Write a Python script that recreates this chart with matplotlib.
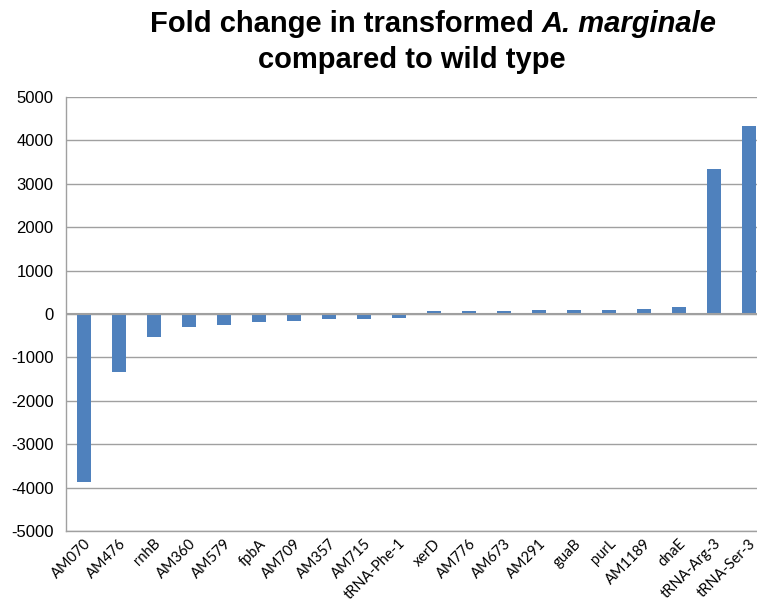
import numpy as np
import matplotlib
matplotlib.use("Agg")
import matplotlib.pyplot as plt

genes = ["AM070", "AM476", "rnhB", "AM360", "AM579", "fpbA", "AM709", "AM357",
         "AM715", "tRNA-Phe-1", "xerD", "AM776", "AM673", "AM291", "guaB", "purL",
         "AM1189", "dnaE", "tRNA-Arg-3", "tRNA-Ser-3"]
fold_change = [-3880, -1340, -530, -300, -250, -190, -160, -120,
               -120, -90, 60, 60, 80, 90, 100, 100,
               120, 150, 3340, 4330]
yticks = [-5000, -4000, -3000, -2000, -1000, 0, 1000, 2000, 3000, 4000, 5000]

W, H = 757, 606
fig = plt.figure(figsize=(W / 100, H / 100), dpi=100)
# axes run past the right edge, as in the original
ax = fig.add_axes([66 / W, (H - 531) / H, 700 / W, (531 - 97) / H])

x = np.arange(len(genes))
ax.bar(x, fold_change, width=0.4, color="#4F81BD", zorder=3)

ax.set_xlim(-0.5, len(genes) - 0.5)
ax.set_ylim(-5000, 5000)
ax.set_yticks(yticks)
ax.set_yticklabels([str(v) for v in yticks], fontfamily="Liberation Sans", fontsize=12)
ax.yaxis.grid(True, color="#A0A0A0", linewidth=1, zorder=0)
ax.axhline(0, color="#A0A0A0", linewidth=1.5, zorder=4)
ax.tick_params(axis="y", length=0, pad=9)
ax.tick_params(axis="x", length=0, pad=4)

ax.set_xticks(x)
ax.set_xticklabels(genes, rotation=45, ha="right", rotation_mode="anchor",
                   fontfamily="Lato", fontsize=10.5)

for s in ["top", "right"]:
    ax.spines[s].set_visible(False)
for s in ["left", "bottom"]:
    ax.spines[s].set_color("#A0A0A0")
    ax.spines[s].set_linewidth(1)

# title, with the species name in italics
fig.canvas.draw()
r = fig.canvas.get_renderer()
t1 = fig.text(0, 1 - 24 / H, "Fold change in transformed ", fontsize=21,
              fontweight="bold", fontfamily="Liberation Sans", va="center")
t2 = fig.text(0, 1 - 24 / H, "A. marginale", fontsize=21, fontweight="bold",
              fontstyle="italic", fontfamily="Liberation Sans", va="center")
w1 = t1.get_window_extent(r).width
w2 = t2.get_window_extent(r).width
x0 = 433 - (w1 + w2) / 2
t1.set_x(x0 / W)
t2.set_x((x0 + w1) / W)
fig.text(412 / W, 1 - 60 / H, "compared to wild type", fontsize=21,
         fontweight="bold", fontfamily="Liberation Sans", ha="center", va="center")

fig.savefig("out.png", dpi=100)
